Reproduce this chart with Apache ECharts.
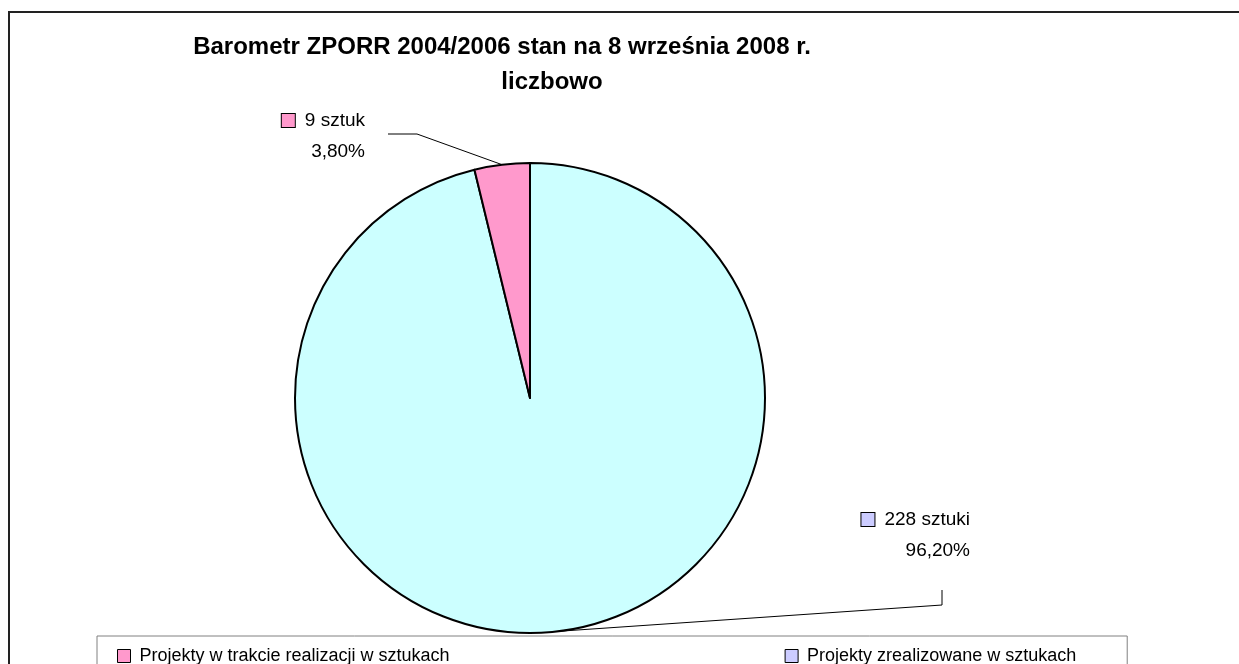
<!DOCTYPE html>
<html>
<head>
<meta charset="utf-8">
<script src="https://cdn.jsdelivr.net/npm/echarts@6/dist/echarts.min.js"></script>
<style>
  html, body { margin: 0; padding: 0; background: #fff; }
  #chart { width: 1239px; height: 664px; }
</style>
</head>
<body>
<div id="chart"></div>
<script>
// dane wykresu
const titleLines = ['Barometr ZPORR 2004/2006 stan na 8 września 2008 r.', 'liczbowo'];
const names = ['Projekty zrealizowane w sztukach', 'Projekty w trakcie realizacji w sztukach'];
const values = [228, 9];
const units = ['sztuki', 'sztuk'];
const sliceColors = ['#CCFFFF', '#FF99CC'];
const markerColors = ['#CCCCFF', '#FF99CC'];
const legendOrder = [1, 0];

const total = values.reduce((a, b) => a + b, 0);
const pct = v => (v / total * 100).toFixed(2).replace('.', ',') + '%';

// pozycje etykiet (prawa krawędź, środek w pionie)
const labelPos = [[970, 535], [365, 136]];

const chart = echarts.init(document.getElementById('chart'));

const font = 'Liberation Sans, Arial, sans-serif';

const rich = {
  gap: { width: 10 },
  t: { fontSize: 19, lineHeight: 31, color: '#000', fontFamily: font }
};
markerColors.forEach((c, i) => {
  rich['sq' + i] = { width: 13, height: 13, backgroundColor: c, borderColor: '#000', borderWidth: 1 };
});

const option = {
  animation: false,
  backgroundColor: '#fff',
  graphic: [{
    type: 'rect',
    shape: { x: 9, y: 12, width: 1400, height: 800 },
    style: { fill: null, stroke: '#222', lineWidth: 2 },
    silent: true
  }],
  title: [{
    text: titleLines[0],
    left: 502,
    textAlign: 'center',
    top: 33,
    padding: 0,
    textStyle: { fontSize: 24, fontWeight: 'bold', color: '#000', fontFamily: font, lineHeight: 28 }
  }, {
    text: titleLines[1],
    left: 552,
    textAlign: 'center',
    top: 68,
    padding: 0,
    textStyle: { fontSize: 24, fontWeight: 'bold', color: '#000', fontFamily: font, lineHeight: 28 }
  }],
  legend: {
    left: 97,
    top: 636,
    orient: 'horizontal',
    selectedMode: false,
    padding: [11, 51, 20, 20],
    borderColor: '#808080',
    borderWidth: 1,
    itemGap: 335,
    itemWidth: 13,
    itemHeight: 13,
    icon: 'rect',
    itemStyle: { borderColor: '#000', borderWidth: 1 },
    textStyle: { fontSize: 18, color: '#000', fontFamily: font, padding: [0, 0, 0, 4] },
    data: legendOrder.map(i => ({ name: names[i], itemStyle: { color: markerColors[i] } }))
  },
  series: [{
    type: 'pie',
    center: [530, 398],
    radius: 235,
    startAngle: 90,
    clockwise: true,
    avoidLabelOverlap: false,
    emphasis: { disabled: true },
    silent: true,
    itemStyle: { borderColor: '#000', borderWidth: 2 },
    label: {
      show: true,
      position: 'outside',
      formatter: p => `{sq${p.dataIndex}|}{gap|}{t|${p.value} ${units[p.dataIndex]}}\n{t|${pct(p.value)}}`,
      rich: rich
    },
    labelLine: {
      show: true,
      length: 10,
      length2: 20,
      lineStyle: { color: '#000', width: 1 }
    },
    labelLayout: function (params) {
      const i = params.dataIndex;
      const pos = labelPos[i];
      const h = params.labelRect.height;
      const bottom = pos[1] + h / 2;
      const start = params.labelLinePoints[0];
      let pts;
      if (i === 1) {
        pts = [start, [pos[0] + 52, pos[1] - 2], [pos[0] + 23, pos[1] - 2]];
      } else {
        pts = [start, [pos[0] - 28, bottom + 45], [pos[0] - 28, bottom + 30]];
      }
      return { x: pos[0], y: pos[1], align: 'right', verticalAlign: 'middle', labelLinePoints: pts };
    },
    data: values.map((v, i) => ({ name: names[i], value: v, itemStyle: { color: sliceColors[i] } }))
  }]
};

chart.setOption(option);
</script>
</body>
</html>
